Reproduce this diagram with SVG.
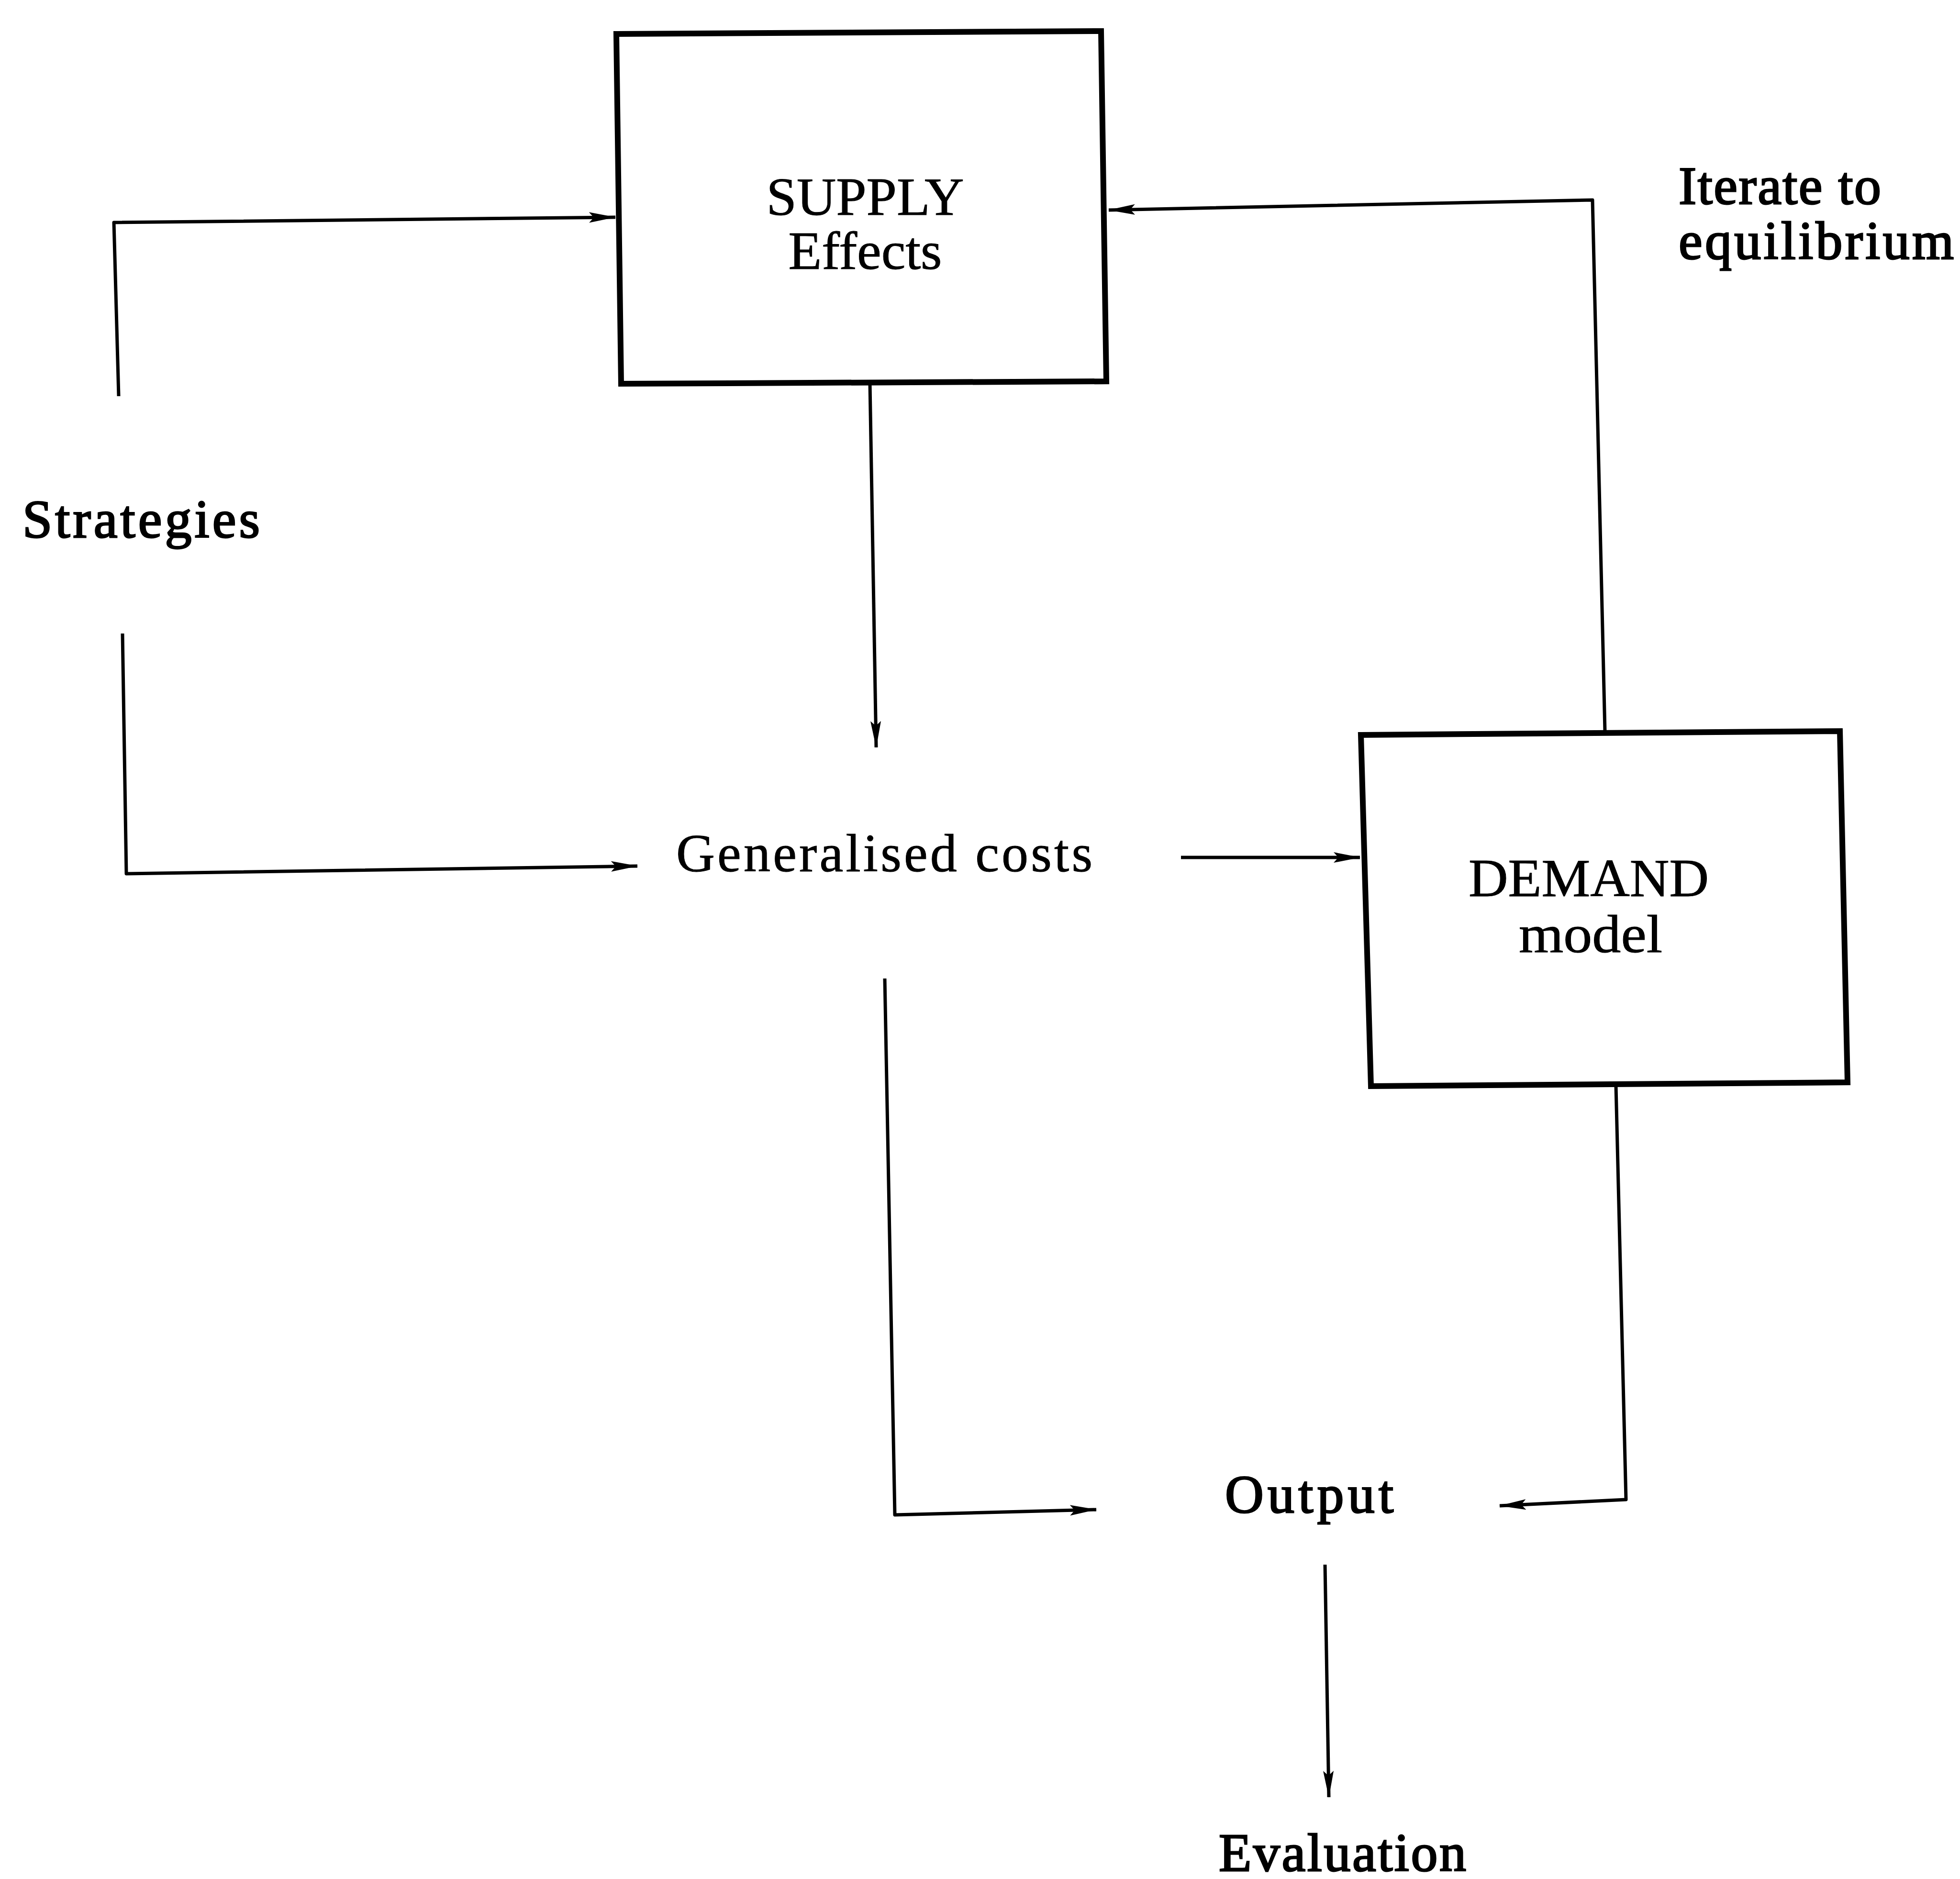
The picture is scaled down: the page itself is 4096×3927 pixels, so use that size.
<svg xmlns="http://www.w3.org/2000/svg" width="4096" height="3927" viewBox="0 0 4096 3927">
<style>
.box{fill:none;stroke:#000;stroke-width:12;stroke-linejoin:miter}
.con{fill:none;stroke:#000;stroke-width:7;stroke-linejoin:round}
.t{font-family:"Liberation Serif",serif;font-size:112px;fill:#000;stroke:#000;stroke-width:1}
.b{stroke-width:3}
</style>
<defs>
<marker id="ah" viewBox="0 0 56 28" refX="55" refY="14" markerWidth="56" markerHeight="28" markerUnits="userSpaceOnUse" orient="auto">
<path d="M0,3 L56,14 L0,25 L10,14 Z" fill="#000"/>
</marker>
</defs>
<rect width="4096" height="3927" fill="#fff"/>
<g id="connectors">
<path class="con" d="M248,828 L238,465 L1286,454" marker-end="url(#ah)"/>
<path class="con" d="M256,1324 L264,1826 L1332,1810" marker-end="url(#ah)"/>
<path class="con" d="M1818,802 L1831,1562" marker-end="url(#ah)"/>
<path class="con" d="M2468,1792 L2842,1792" marker-end="url(#ah)"/>
<path class="con" d="M3354,1528 L3328,418 L2317,439" marker-end="url(#ah)"/>
<path class="con" d="M1849,2045 L1870,3166 L2291,3155" marker-end="url(#ah)"/>
<path class="con" d="M3377,2270 L3398,3134 L3134,3147" marker-end="url(#ah)"/>
<path class="con" d="M2769,3270 L2777,3756" marker-end="url(#ah)"/>
</g>
<g id="supply">
<polygon class="box" points="1288,71 2301,65 2312,797 1298,802"/>
<text class="t" x="1808" y="449" text-anchor="middle" textLength="413" lengthAdjust="spacingAndGlyphs">SUPPLY</text>
<text class="t" x="1808" y="562" text-anchor="middle" textLength="321" lengthAdjust="spacingAndGlyphs">Effects</text>
</g>
<g id="strategies">
<text class="t b" x="47" y="1123" textLength="496" lengthAdjust="spacing">Strategies</text>
</g>
<g id="generalised-costs">
<text class="t" x="1413" y="1821" textLength="870" lengthAdjust="spacing">Generalised costs</text>
</g>
<g id="demand">
<polygon class="box" points="2844,1536 3845,1528 3861,2262 2865,2270"/>
<text class="t" x="3320" y="1873" text-anchor="middle" textLength="502" lengthAdjust="spacingAndGlyphs">DEMAND</text>
<text class="t" x="3324" y="1990" text-anchor="middle" textLength="300" lengthAdjust="spacingAndGlyphs">model</text>
</g>
<g id="iterate">
<text class="t b" x="3508" y="426" textLength="423" lengthAdjust="spacing">Iterate to</text>
<text class="t b" x="3508" y="541" textLength="575" lengthAdjust="spacing">equilibrium</text>
</g>
<g id="output">
<text class="t b" x="2560" y="3161" textLength="352" lengthAdjust="spacing">Output</text>
</g>
<g id="evaluation">
<text class="t b" x="2547" y="3910" textLength="517" lengthAdjust="spacing">Evaluation</text>
</g>
</svg>
